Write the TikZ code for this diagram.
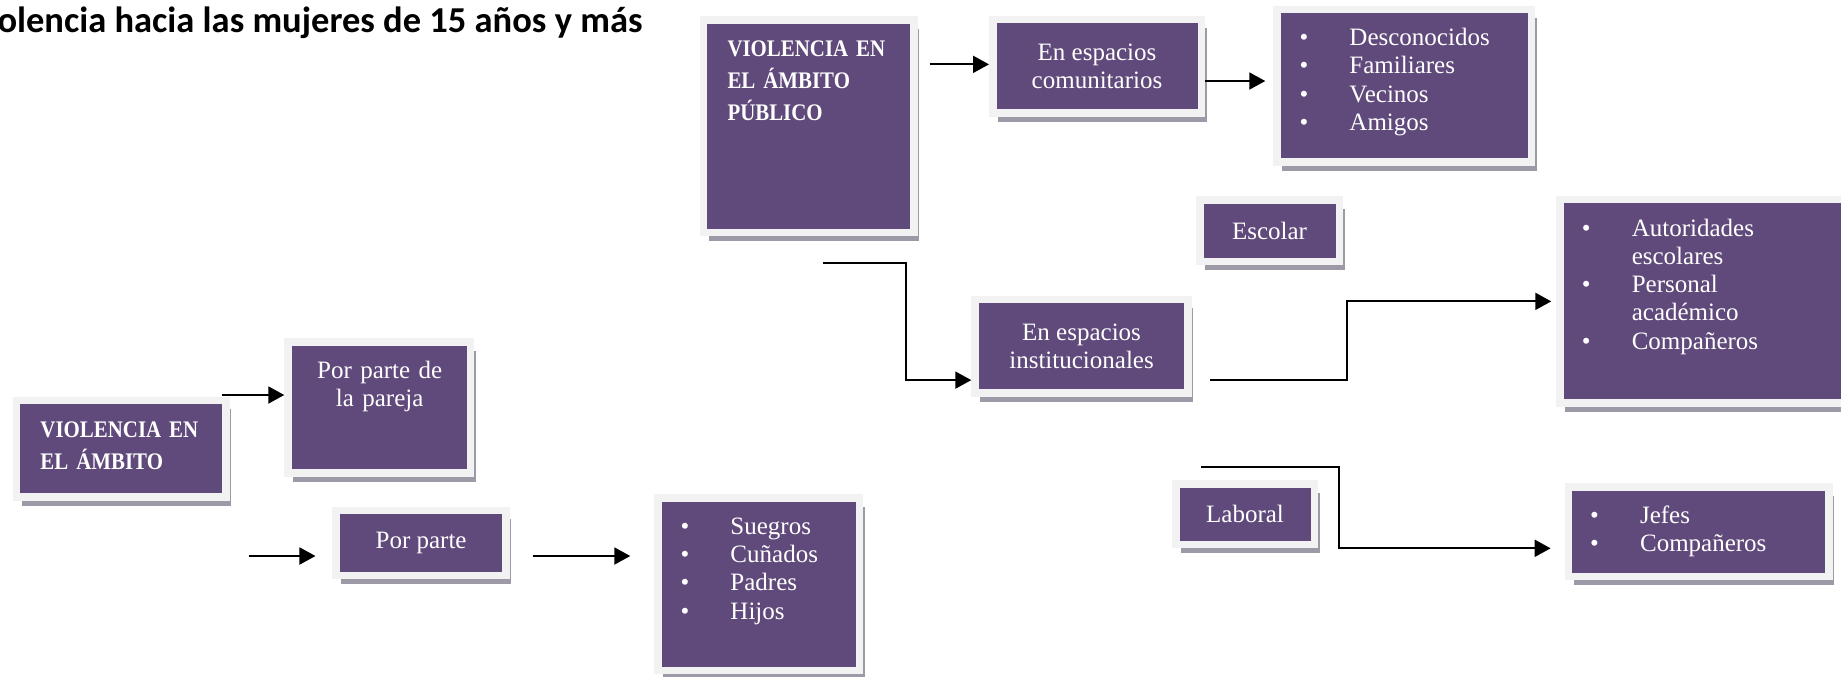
\documentclass[tikz,border=0pt]{standalone}
\usepackage{fontspec}
\setmainfont{Liberation Serif}
\newfontfamily\carlito{Carlito}
\newfontfamily\negra[FakeStretch=0.88]{Liberation Serif}
\usetikzlibrary{arrows.meta,shadows}
\definecolor{morado}{HTML}{604A7B}
\definecolor{marco}{HTML}{F2F2F2}
\definecolor{sombra}{HTML}{9E99A6}
\newcommand{\vin}{\makebox[20pt][l]{•}}
\newcommand{\sinv}{\hspace*{20pt}}
\begin{document}
\begin{tikzpicture}[x=0.4pt,y=-0.4pt,
    caja/.style={fill=morado,draw=marco,line width=3pt,inner sep=0pt,text=white,
      font=\fontsize{10}{11.3}\selectfont,align=center,
      drop shadow={shadow xshift=2.1pt,shadow yshift=-3.5pt,fill=sombra,opacity=1}},
    txt/.style={inner sep=0pt,text=white,font=\fontsize{10}{11.3}\selectfont,
      text width=110pt,align=left,anchor=base west},
    neg/.style={inner sep=0pt,text=white,font=\negra\bfseries\fontsize{9.5}{12.7}\selectfont,
      text width=75pt,align=left,anchor=base west},
    flecha/.style={-{Triangle[length=6.4pt,width=6.8pt]},line width=0.8pt}]
    \useasboundingbox (0,0) rectangle (1841,676);
    \clip (0,0) rectangle (1841,676);
    \node[anchor=base west,inner sep=0pt,font=\carlito\bfseries\fontsize{14.6}{16}\selectfont] (titulo) at (-3,32.3) {olencia hacia las mujeres de 15 años y más};

    \node[caja,minimum width=84.1pt,minimum height=85pt] (pub) at (808.85,126) {};
    \node[neg] (pubtxt) at (727,56.7) {VIOLENCIA EN\\EL ÁMBITO\\PÚBLICO};
    \node[caja,minimum width=83.4pt,minimum height=37.3pt] (com) at (1097,66.35) {En espacios\\comunitarios};
    \node[caja,minimum width=101.7pt,minimum height=60.9pt] (lista1) at (1404.15,85.85) {};
    \node[txt] (lista1txt) at (1299,45.7) {\vin Desconocidos\\\vin Familiares\\\vin Vecinos\\\vin Amigos};
    \node[caja,minimum width=55.8pt,minimum height=24.6pt] (escolar) at (1269.5,230.5) {Escolar};
    \node[caja,minimum width=85.2pt,minimum height=37.3pt] (inst) at (1081.55,346.35) {En espacios\\institucionales};
    \node[caja,minimum width=118.6pt,minimum height=81.3pt] (aut) at (1708,301.35) {};
    \node[txt] (auttxt) at (1581.3,236) {\vin Autoridades\\\sinv escolares\\\vin Personal\\\sinv académico\\\vin Compañeros};
    \node[caja,minimum width=55.4pt,minimum height=24.3pt] (laboral) at (1245,514.15) {Laboral};
    \node[caja,minimum width=104.1pt,minimum height=35.7pt] (jefes) at (1698.85,531.65) {};
    \node[txt] (jefestxt) at (1589.6,523.3) {\vin Jefes\\\vin Compañeros};

    \node[caja,minimum width=83.9pt,minimum height=38.7pt] (izq) at (121.35,448.85) {};
    \node[neg] (izqtxt) at (40,437.3) {VIOLENCIA EN\\EL ÁMBITO};
    \node[caja,minimum width=72.9pt,minimum height=52.4pt] (pareja) at (379.15,407.5) {};
    \node[txt,text width=70pt,align=center,anchor=base] (parejatxt) at (379.7,378.3) {Por parte de\\la pareja};
    \node[caja,minimum width=67.9pt,minimum height=26pt] (familia) at (421.1,543) {Por parte};
    \node[caja,minimum width=80.7pt,minimum height=69pt] (suegros) at (758.65,584) {};
    \node[txt] (suegrostxt) at (680,534.3) {\vin Suegros\\\vin Cuñados\\\vin Padres\\\vin Hijos};

    \coordinate (a0) at ([xshift=4.8pt]pub.east);
    \coordinate (a1) at ([yshift=0.8pt]com.west);
    \draw[flecha] (a0 |- a1) -- (a1);
    \coordinate (b1) at ([xshift=-3.2pt,yshift=1.94pt]lista1.west);
    \draw[flecha] (com.east |- b1) -- (b1);
    \coordinate (c0) at ([xshift=5.66pt,yshift=-10.8pt]pub.south);
    \coordinate (c1) at ([yshift=-13.5pt]inst.west);
    \draw[flecha] (c0) -- ++(33.2pt,0) |- (c1);
    \coordinate (d0) at ([xshift=7.2pt,yshift=-13.5pt]inst.east);
    \coordinate (d1) at ([xshift=-1.9pt]aut.west);
    \draw[flecha] (d0) -- ++(54.8pt,0) |- (d1);
    \coordinate (e0) at ([xshift=-17.7pt,yshift=5.2pt]laboral.north);
    \coordinate (e1) at ([xshift=-5.74pt,yshift=-6.66pt]jefes.west);
    \draw[flecha] (e0) -- ++(55.1pt,0) |- (e1);
    \coordinate (f0) at ([xshift=-3.3pt]izq.north east);
    \coordinate (f1) at ([yshift=5pt]pareja.west);
    \draw[flecha] (f0 |- f1) -- (f1);
    \coordinate (g0) at ([xshift=-33.5pt,yshift=-5.2pt]familia.west);
    \coordinate (g1) at ([xshift=-6.8pt,yshift=-5.2pt]familia.west);
    \draw[flecha] (g0) -- (g1);
    \coordinate (h0) at ([xshift=9.2pt,yshift=-5.2pt]familia.east);
    \coordinate (h1) at ([xshift=-9.5pt]suegros.west);
    \draw[flecha] (h0) -- (h1 |- h0);
\end{tikzpicture}
\end{document}
